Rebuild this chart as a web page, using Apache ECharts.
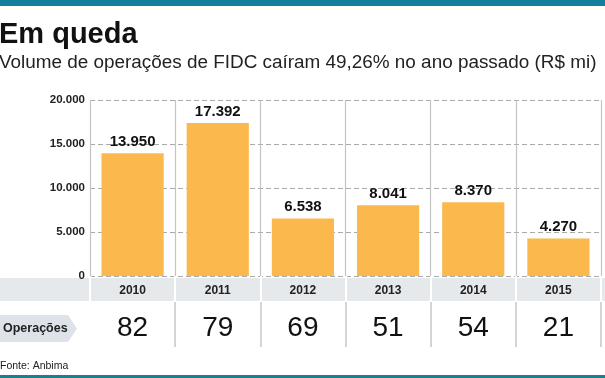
<!DOCTYPE html>
<html><head><meta charset="utf-8">
<script src="https://cdn.jsdelivr.net/npm/echarts@6/dist/echarts.min.js"></script>
<style>html,body{margin:0;padding:0;background:#fff}#c{width:605px;height:378px}</style>
</head><body><div id="c"></div>
<script>
const titleText = 'Em queda';
const subtitleText = 'Volume de operações de FIDC caíram 49,26% no ano passado (R$ mi)';
const years = ['2010','2011','2012','2013','2014','2015'];
const volume = [13950, 17392, 6538, 8041, 8370, 4270];
const operacoes = [82, 79, 69, 51, 54, 21];
const yTicks = [0, 5000, 10000, 15000, 20000];
const rowLabel = 'Operações';
const sourceText = 'Fonte: Anbima';

const FONT = '"Liberation Sans", Arial, sans-serif';
const fmt = v => String(v).replace(/\B(?=(\d{3})+(?!\d))/g, '.');
const inner = (i) => i > 0 && i < years.length;

const chart = echarts.init(document.getElementById('c'), null, {renderer: 'canvas'});
chart.setOption({
  animation: false,
  backgroundColor: '#ffffff',
  textStyle: {fontFamily: FONT},
  title: {
    text: titleText,
    subtext: subtitleText,
    left: -1, top: 20, padding: 0, itemGap: 4,
    textStyle: {fontFamily: FONT, fontSize: 29, fontWeight: 'bold', color: '#111'},
    subtextStyle: {fontFamily: FONT, fontSize: 18.9, color: '#222'}
  },
  grid: {left: 90, right: 4, top: 100, bottom: 102, containLabel: false},
  xAxis: [{
    type: 'category', data: years, position: 'bottom', z: 5,
    axisLine: {show: false},
    axisTick: {show: true, length: 25, interval: 0, lineStyle: {color: '#ffffff', width: 2}},
    axisLabel: {margin: 9, fontSize: 12, fontWeight: 'bold', color: '#222', fontFamily: FONT},
    splitLine: {show: true, interval: 0, lineStyle: {color: '#c4c4c4', width: 1.2}}
  }, {
    type: 'category', data: years, position: 'bottom', offset: 26, z: 5,
    axisLine: {show: false},
    axisTick: {show: true, length: 45, interval: inner, lineStyle: {color: '#c8c8c8', width: 1.5}},
    axisLabel: {margin: 12, fontSize: 28, color: '#111', fontFamily: FONT,
      formatter: (v, i) => String(operacoes[i])}
  }],
  yAxis: {
    type: 'value', min: yTicks[0], max: yTicks[yTicks.length - 1], interval: yTicks[1] - yTicks[0],
    axisLine: {show: false}, axisTick: {show: false},
    axisLabel: {margin: 5, fontSize: 11.5, fontWeight: 'bold', color: '#222', fontFamily: FONT, formatter: v => fmt(v)},
    splitLine: {show: true, lineStyle: {color: '#aaaaaa', type: [5, 3], width: 1.2}}
  },
  series: [{
    type: 'bar', data: volume, barCategoryGap: '27%',
    itemStyle: {color: '#fbb84c'},
    label: {show: true, position: 'top', distance: 4, fontSize: 15, fontWeight: 'bold', color: '#111',
      fontFamily: FONT, formatter: p => fmt(p.value)}
  }, {
    type: 'bar', xAxisIndex: 1, data: [], silent: true
  }],
  graphic: [
    {type: 'rect', z: -10, shape: {x: 0, y: 0, width: 605, height: 6}, style: {fill: '#137f9c'}},
    {type: 'rect', z: -10, shape: {x: 0, y: 375, width: 605, height: 3}, style: {fill: '#1a7f95'}},
    {type: 'rect', z: -10, shape: {x: 0, y: 278, width: 605, height: 23}, style: {fill: '#e5e9ec'}},
    {type: 'polygon', z: 1, shape: {points: [[0,315],[68,315],[77,328.5],[68,342],[0,342]]}, style: {fill: '#dde3e8'}},
    {type: 'text', z: 2, x: 3, y: 329, style: {text: rowLabel, font: 'bold 12.5px ' + FONT, fill: '#222', verticalAlign: 'middle'}},
    {type: 'text', z: 2, x: 0, y: 366, style: {text: sourceText, font: '10.5px ' + FONT, fill: '#222', verticalAlign: 'middle'}}
  ]
});
</script></body></html>
